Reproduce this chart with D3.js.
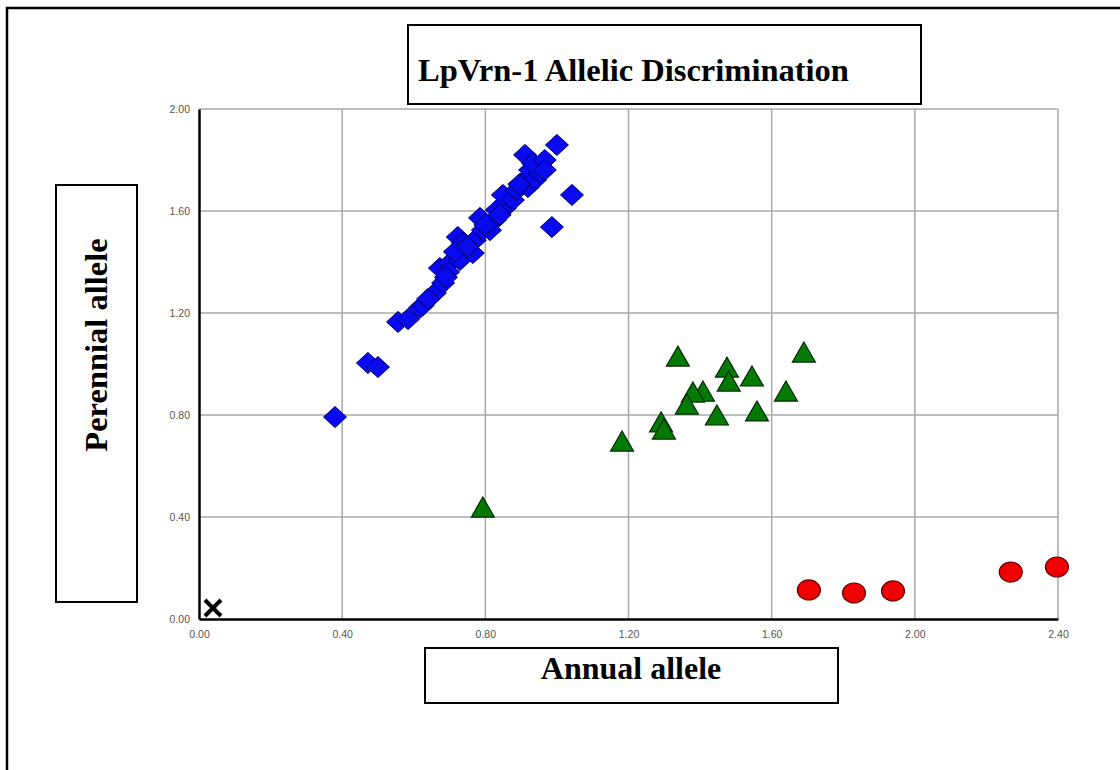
<!DOCTYPE html>
<html>
<head>
<meta charset="utf-8">
<script src="https://cdn.jsdelivr.net/npm/d3@7"></script>
<style>
  body { margin: 0; background: #fff; }
  svg { display: block; }
</style>
</head>
<body>
<div id="chart"></div>
<script>
// perennial-allele cluster (blue diamonds)
const perennialX = [0.380, 0.472, 0.500, 0.556, 0.584, 0.617, 0.626, 0.659, 0.682, 0.673,
  0.701, 0.696, 0.729, 0.723, 0.737, 0.765, 0.771, 0.793, 0.785, 0.813, 0.827, 0.832,
  0.855, 0.849, 0.877, 0.888, 0.919, 0.916, 0.925, 0.939, 0.953, 0.911, 0.933, 0.966,
  0.966, 1.000, 1.042, 0.986, 0.690, 0.715, 0.750, 0.800, 0.840, 0.895, 0.640];
const perennialY = [0.792, 1.004, 0.988, 1.165, 1.176, 1.220, 1.231, 1.278, 1.318, 1.376,
  1.396, 1.361, 1.408, 1.498, 1.475, 1.435, 1.486, 1.525, 1.573, 1.525, 1.565, 1.604,
  1.612, 1.663, 1.643, 1.682, 1.694, 1.729, 1.761, 1.722, 1.749, 1.820, 1.788, 1.800,
  1.761, 1.859, 1.663, 1.537, 1.340, 1.440, 1.460, 1.545, 1.585, 1.705, 1.255];

// heterozygous cluster (green triangles)
const heteroX = [1.338, 1.475, 1.545, 1.480, 1.690, 1.640, 1.408, 1.380, 1.363, 1.447,
  1.559, 1.291, 1.299, 1.182, 0.793];
const heteroY = [1.027, 0.984, 0.949, 0.929, 1.043, 0.890, 0.890, 0.886, 0.839, 0.796,
  0.812, 0.769, 0.741, 0.694, 0.435];

// annual-allele cluster (red circles)
const annualX = [1.704, 1.830, 1.939, 2.268, 2.397];
const annualY = [0.114, 0.102, 0.110, 0.184, 0.204];

// no template control
const ntcX = [0.039];
const ntcY = [0.043];

const xTicks = [0, 0.4, 0.8, 1.2, 1.6, 2.0, 2.4];
const yTicks = [0, 0.4, 0.8, 1.2, 1.6, 2.0];

const width = 1120, height = 770;
const svg = d3.select('#chart').append('svg')
  .attr('width', width).attr('height', height);

const x = d3.scaleLinear().domain([0, 2.4]).range([199, 1058]);
const y = d3.scaleLinear().domain([0, 2.0]).range([619, 109]);

// outer frame (runs off the right / bottom)
svg.append('rect')
  .attr('x', 7).attr('y', 8).attr('width', 1130).attr('height', 780)
  .attr('fill', 'none').attr('stroke', '#000').attr('stroke-width', 2.5);

// text boxes (drawn under the plot so tick labels stay visible)
const serif = 'Liberation Serif, Times New Roman, serif';
function box(x0, y0, w, h) {
  svg.append('rect').attr('x', x0).attr('y', y0).attr('width', w).attr('height', h)
    .attr('fill', '#fff').attr('stroke', '#000').attr('stroke-width', 2);
}

box(408, 25, 513, 79);
svg.append('text').attr('x', 418).attr('y', 81)
  .attr('font-family', serif)
  .attr('font-weight', 'bold').attr('font-size', 32.5)
  .text('LpVrn-1 Allelic Discrimination');

box(425, 648, 413, 55);
svg.append('text').attr('x', 631).attr('y', 679)
  .attr('text-anchor', 'middle').attr('font-family', serif)
  .attr('font-weight', 'bold').attr('font-size', 32)
  .text('Annual allele');

box(56, 185, 81, 417);
svg.append('text')
  .attr('transform', 'translate(107,345) rotate(-90)')
  .attr('text-anchor', 'middle').attr('font-family', serif)
  .attr('font-weight', 'bold').attr('font-size', 32.5)
  .text('Perennial allele');

// grid
const grid = svg.append('g');
grid.selectAll('line.gx').data(xTicks.slice(1)).join('line')
  .attr('x1', d => x(d)).attr('x2', d => x(d))
  .attr('y1', y(0)).attr('y2', y(2.0))
  .attr('stroke', '#a8a8a8').attr('stroke-width', 1.5);
grid.selectAll('line.gy').data(yTicks.slice(1)).join('line')
  .attr('x1', x(0)).attr('x2', x(2.4))
  .attr('y1', d => y(d)).attr('y2', d => y(d))
  .attr('stroke', '#a8a8a8').attr('stroke-width', 1.5);

// axes
const xAxis = svg.append('g')
  .attr('transform', `translate(0,${y(0)})`)
  .call(d3.axisBottom(x).tickValues(xTicks).tickFormat(d3.format('.2f')).tickSize(0).tickPadding(12));
const yAxis = svg.append('g')
  .attr('transform', `translate(${x(0)},0)`)
  .call(d3.axisLeft(y).tickValues(yTicks).tickFormat(d3.format('.2f')).tickSize(0).tickPadding(9));
[xAxis, yAxis].forEach(a => {
  a.select('.domain').attr('stroke', '#000').attr('stroke-width', 2.5);
  a.selectAll('text').attr('fill', '#555').attr('font-family', 'Liberation Sans, Arial, sans-serif')
    .attr('font-size', 10.5);
});

// marks
const pts = (xs, ys) => xs.map((v, i) => ({ x: v, y: ys[i] }));

svg.append('g').selectAll('path').data(pts(perennialX, perennialY)).join('path')
  .attr('transform', d => `translate(${x(d.x)},${y(d.y)})`)
  .attr('d', 'M0,-10.5L11.5,0L0,10.5L-11.5,0Z')
  .attr('fill', '#0a0af0').attr('stroke', '#00006a').attr('stroke-width', 1);

svg.append('g').selectAll('path').data(pts(heteroX, heteroY)).join('path')
  .attr('transform', d => `translate(${x(d.x)},${y(d.y)})`)
  .attr('d', 'M0,-11L11.5,9L-11.5,9Z')
  .attr('fill', '#047a04').attr('stroke', '#002a00').attr('stroke-width', 1.2);

svg.append('g').selectAll('ellipse').data(pts(annualX, annualY)).join('ellipse')
  .attr('cx', d => x(d.x)).attr('cy', d => y(d.y))
  .attr('rx', 11.5).attr('ry', 10)
  .attr('fill', '#f00000').attr('stroke', '#600000').attr('stroke-width', 1.2);

svg.append('g').selectAll('path').data(pts(ntcX, ntcY)).join('path')
  .attr('transform', d => `translate(${x(d.x)},${y(d.y)})`)
  .attr('d', 'M-8,-8L8,8M-8,8L8,-8')
  .attr('stroke', '#000').attr('stroke-width', 4).attr('fill', 'none');
</script>
</body>
</html>
